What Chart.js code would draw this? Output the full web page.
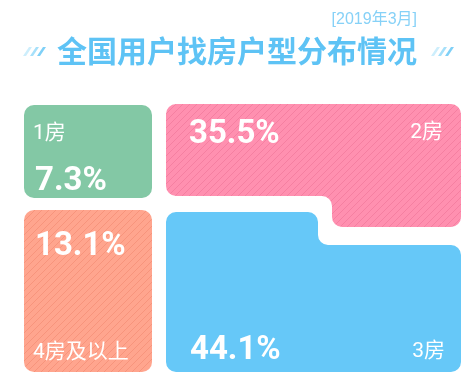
<!DOCTYPE html>
<html>
<head>
<meta charset="utf-8">
<script src="https://cdn.jsdelivr.net/npm/chart.js@4/dist/chart.umd.min.js"></script>
<style>
  html, body { margin: 0; padding: 0; background: #ffffff; }
  #wrap { width: 470px; height: 384px; }
</style>
</head>
<body>
<div id="wrap"><canvas id="c" width="470" height="384"></canvas></div>
<script>
// ---- data ----
const titleText = '全国用户找房户型分布情况';
const dateText = '[2019年3月]';
const categories = ['1房', '2房', '3房', '4房及以上'];
const shares = [7.3, 35.5, 44.1, 13.1];
const valueLabels = shares.map(v => v.toFixed(1) + '%');

// ---- styles ----
const tileColors = ['#83c8a5', '#ff90b0', '#66c8f8', '#ffa58e'];
const hatchColors = [null, '#f57fa1', null, '#f7947c'];

// ---- layout of the tiles, in scale units (x: 0..470, y: 0..384 top-down) ----
const tileShapes = [
  [[24,105],[152,105],[152,198],[24,198]],
  [[166,104],[461,104],[461,227],[332,227],[332,196],[166,196]],
  [[166,212],[318,212],[318,245],[461,245],[461,372],[166,372]],
  [[24,210],[152,210],[152,372],[24,372]]
];
// text anchors: [x, y, align]
const catAnchors = [[33,134,'left'],[443,133,'right'],[445,352,'right'],[33,353,'left']];
const valAnchors = [[35,190,'left'],[189,143,'left'],[190,359,'left'],[35,255,'left']];

function makeHatch(base, line) {
  const s = 7;
  const c = document.createElement('canvas');
  c.width = s; c.height = s;
  const g = c.getContext('2d');
  g.fillStyle = base; g.fillRect(0, 0, s, s);
  g.strokeStyle = line; g.lineWidth = 1;
  g.beginPath();
  g.moveTo(-1, s + 1); g.lineTo(s + 1, -1);
  g.moveTo(-1, 1); g.lineTo(1, -1);
  g.moveTo(s - 1, s + 1); g.lineTo(s + 1, s - 1);
  g.stroke();
  return g.createPattern(c, 'repeat');
}

function roundedPoly(ctx, pts, r) {
  const n = pts.length;
  const mx = (pts[n-1][0] + pts[0][0]) / 2, my = (pts[n-1][1] + pts[0][1]) / 2;
  ctx.beginPath();
  ctx.moveTo(mx, my);
  for (let i = 0; i < n; i++) {
    const a = pts[i], b = pts[(i + 1) % n];
    ctx.arcTo(a[0], a[1], b[0], b[1], r);
  }
  ctx.closePath();
}

const tilePlugin = {
  id: 'tiles',
  beforeDatasetsDraw(chart) {
    const ctx = chart.ctx;
    const xs = chart.scales.x, ys = chart.scales.y;
    const px = v => xs.getPixelForValue(v);
    const py = v => ys.getPixelForValue(v);
    ctx.save();
    // title
    ctx.fillStyle = '#5ec3f5';
    ctx.font = 'bold 30px "Noto Sans CJK SC", sans-serif';
    ctx.textAlign = 'center';
    ctx.textBaseline = 'middle';
    ctx.fillText(titleText, px(237), py(51));
    ctx.fillStyle = '#86d1f7';
    ctx.font = '16px "Liberation Sans", "Noto Sans CJK SC", sans-serif';
    ctx.textAlign = 'right';
    ctx.fillText(dateText, px(417), py(20));
    // slash decorations
    const slashCols = ['#cdeefc', '#a6e0fa', '#7fd0f7'];
    [[23, 30, 37], [431, 438, 445]].forEach(group => {
      group.forEach((x, i) => {
        ctx.fillStyle = slashCols[i];
        ctx.beginPath();
        ctx.moveTo(px(x), py(56));
        ctx.lineTo(px(x + 6), py(47));
        ctx.lineTo(px(x + 9), py(47));
        ctx.lineTo(px(x + 3), py(56));
        ctx.closePath();
        ctx.fill();
      });
    });
    // tiles
    categories.forEach((cat, i) => {
      const pts = tileShapes[i].map(p => [px(p[0]), py(p[1])]);
      roundedPoly(ctx, pts, 10);
      ctx.fillStyle = hatchColors[i] ? makeHatch(tileColors[i], hatchColors[i]) : tileColors[i];
      ctx.fill();
      // category label
      const ca = catAnchors[i];
      ctx.fillStyle = '#ffffff';
      ctx.font = '21px Roboto, "Noto Sans CJK SC", sans-serif';
      ctx.textAlign = ca[2];
      ctx.textBaseline = 'middle';
      ctx.fillText(cat, px(ca[0]), py(ca[1]));
      // value label
      const va = valAnchors[i];
      ctx.font = 'bold 33px Roboto, sans-serif';
      ctx.textAlign = va[2];
      ctx.textBaseline = 'alphabetic';
      ctx.fillText(valueLabels[i], px(va[0]), py(va[1]));
    });
    ctx.restore();
  }
};

new Chart(document.getElementById('c'), {
  type: 'scatter',
  data: { datasets: [{ label: '户型占比', data: [], pointRadius: 0 }] },
  options: {
    responsive: false,
    animation: false,
    devicePixelRatio: 1,
    layout: { padding: 0 },
    scales: {
      x: { type: 'linear', min: 0, max: 470, display: false },
      y: { type: 'linear', min: 0, max: 384, reverse: true, display: false }
    },
    plugins: { legend: { display: false }, tooltip: { enabled: false }, title: { display: false } }
  },
  plugins: [tilePlugin]
});
</script>
</body>
</html>
